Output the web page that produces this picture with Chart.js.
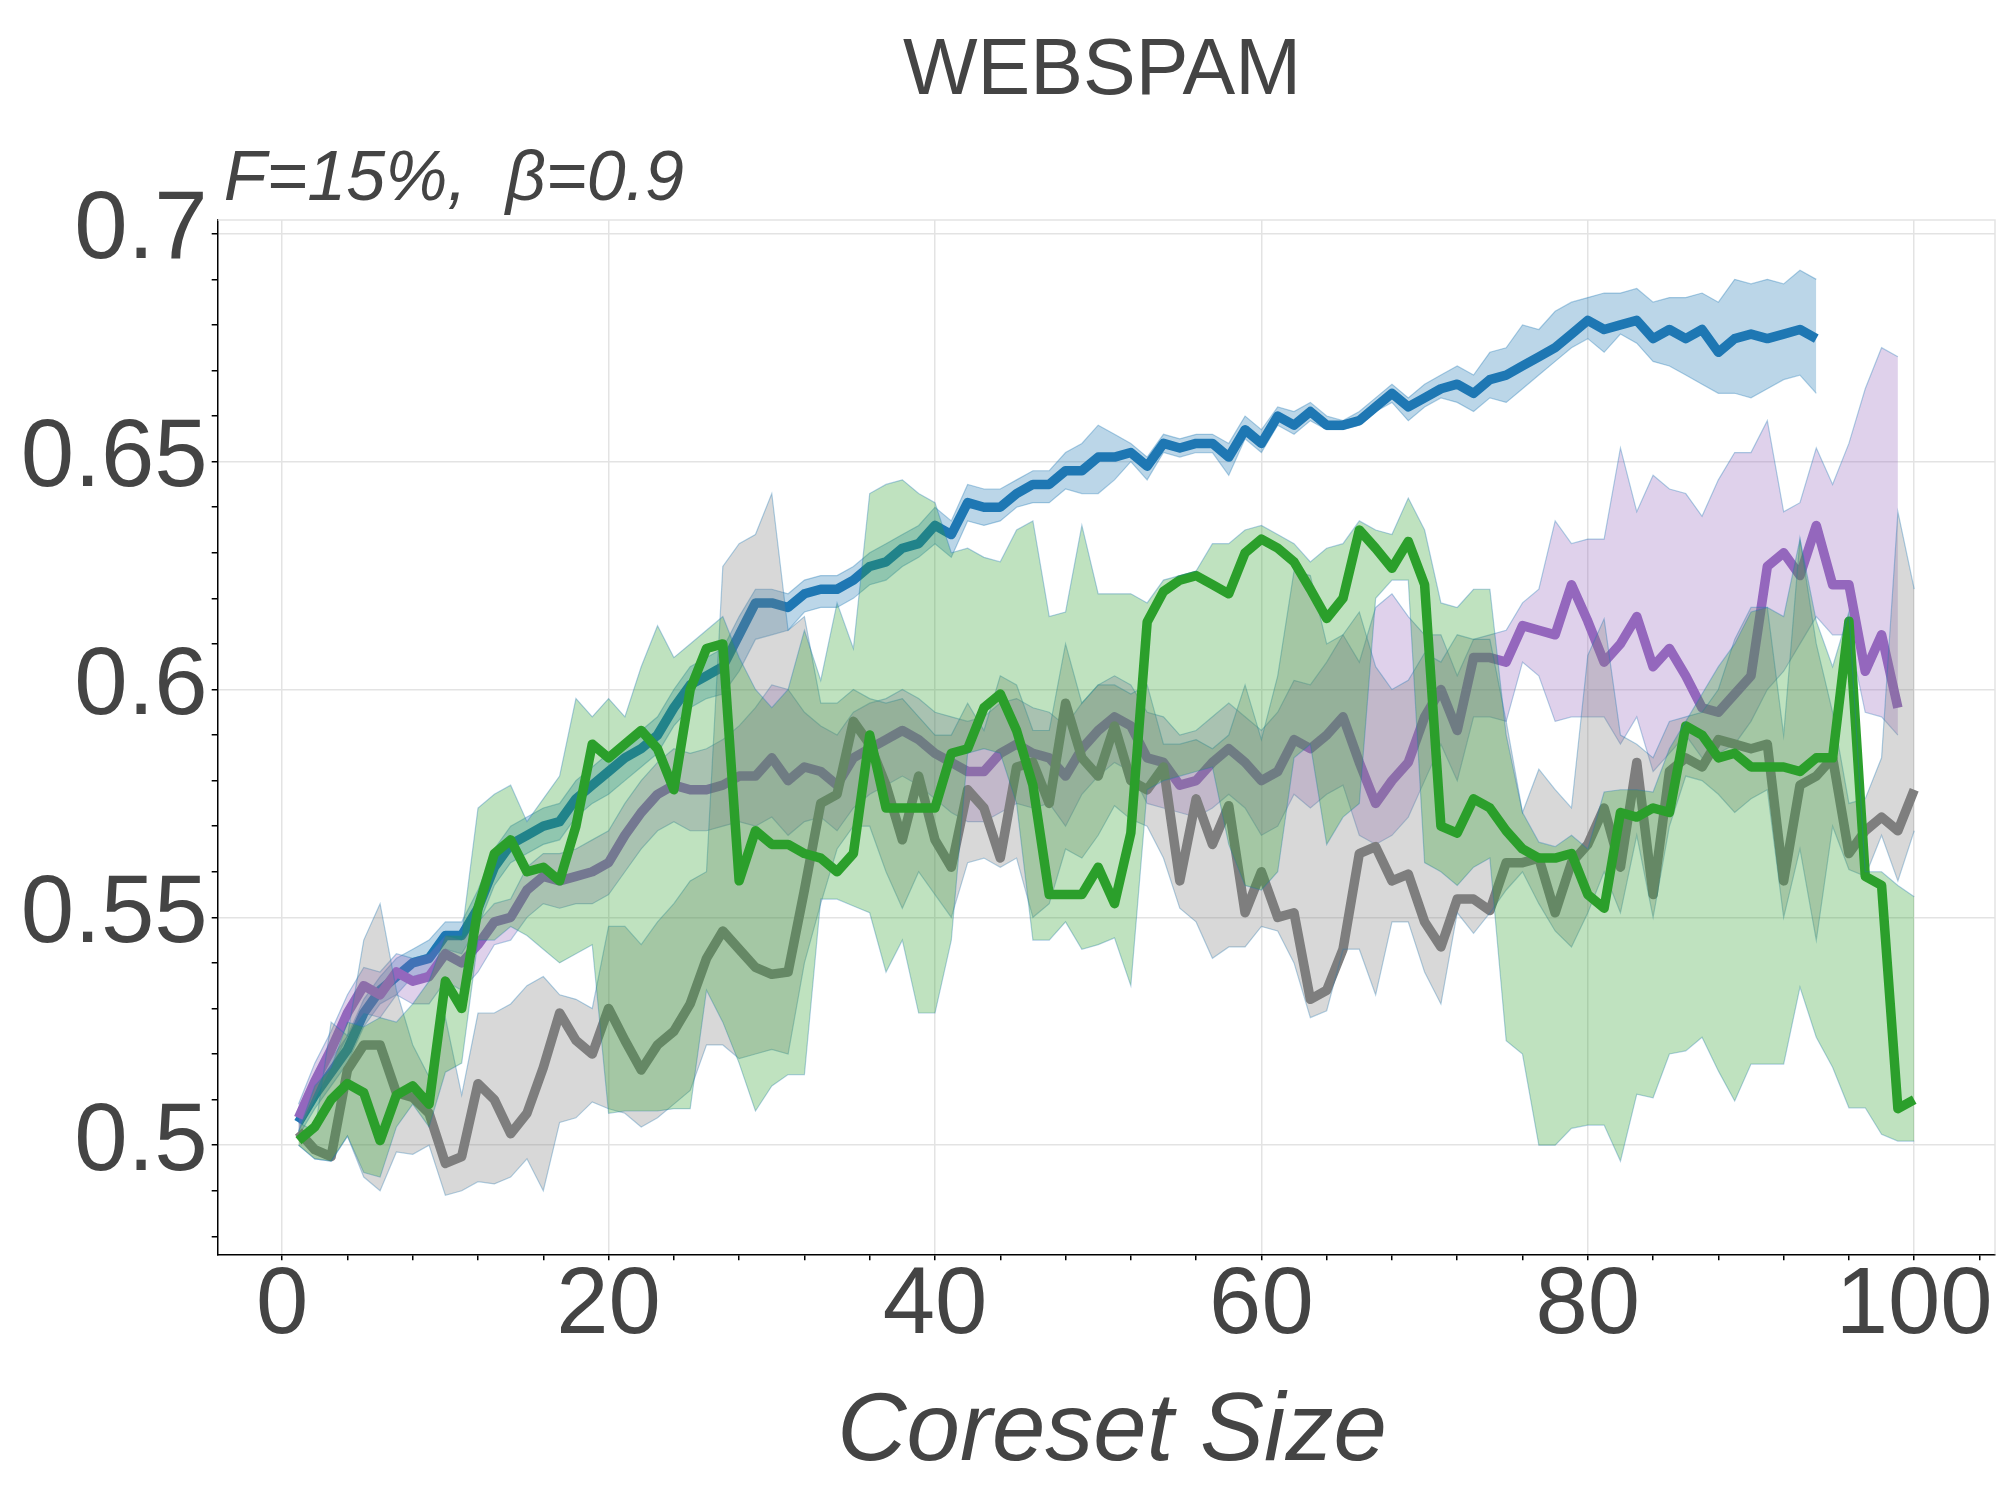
<!DOCTYPE html>
<html lang="en">
<head>
<meta charset="UTF-8">
<title>WEBSPAM</title>
<script src="https://cdn.jsdelivr.net/npm/chart.js"></script>
<style>
  html, body { margin: 0; padding: 0; background: #fff; }
  #chart { display: block; }
</style>
</head>
<body>
<canvas id="chart" width="2000" height="1500"></canvas>
<script>
// coreset sizes 1..100 (each method stops at its own length)
const coresetSizes = Array.from({ length: 100 }, (_, i) => i + 1);

// blue
const blueMean = [.505,.511,.516,.521,.529,.534,.537,.540,.541,.546, .546,.552,.561,.566,.568,.570,.571,.576,.579,.582,
  .585,.587,.590,.596,.601,.603,.605,.612,.619,.619, .618,.621,.622,.622,.624,.627,.628,.631,.632,.636,
  .634,.641,.640,.640,.643,.645,.645,.648,.648,.651, .651,.652,.649,.654,.653,.654,.654,.651,.657,.654,
  .660,.658,.661,.658,.658,.659,.662,.665,.662,.664, .666,.667,.665,.668,.669,.671,.673,.675,.678,.681,
  .679,.680,.681,.677,.679,.677,.679,.674,.677,.678, .677,.678,.679,.677];
const blueHigh = [.508,.514,.519,.524,.532,.537,.541,.543,.545,.549, .549,.556,.565,.570,.572,.574,.575,.580,.583,.586,
  .589,.591,.594,.600,.605,.607,.609,.616,.622,.622, .621,.624,.625,.625,.627,.630,.632,.634,.636,.640,
  .637,.645,.644,.644,.646,.648,.648,.652,.654,.658, .656,.654,.651,.656,.655,.656,.656,.654,.660,.657,
  .662,.661,.663,.660,.659,.661,.664,.667,.664,.667, .669,.671,.669,.674,.675,.680,.679,.683,.685,.686,
  .687,.687,.688,.685,.686,.686,.687,.685,.690,.689, .690,.689,.692,.690];
const blueLow = [.502,.508,.513,.518,.526,.531,.533,.537,.538,.543, .542,.548,.557,.562,.564,.566,.567,.572,.575,.577,
  .580,.583,.586,.592,.596,.598,.599,.604,.611,.612, .613,.617,.618,.618,.620,.623,.624,.627,.629,.632,
  .629,.637,.636,.637,.640,.641,.641,.644,.643,.643, .646,.650,.646,.652,.651,.652,.652,.647,.655,.652,
  .658,.656,.659,.657,.657,.658,.661,.663,.659,.662, .664,.663,.661,.664,.663,.666,.669,.672,.675,.677,
  .674,.678,.676,.672,.671,.669,.667,.665,.665,.664, .666,.668,.669,.665];

// purple
const purpleMean = [.506,.514,.521,.529,.535,.533,.538,.536,.537,.542, .540,.544,.549,.550,.556,.559,.558,.559,.560,.562,
  .568,.573,.577,.579,.578,.578,.579,.581,.581,.585, .580,.583,.582,.579,.585,.587,.589,.591,.589,.586,
  .584,.582,.582,.586,.588,.586,.585,.581,.587,.591, .594,.592,.585,.584,.579,.580,.584,.587,.584,.580,
  .582,.589,.587,.590,.594,.584,.575,.580,.584,.594, .600,.591,.607,.607,.606,.614,.613,.612,.623,.615,
  .606,.610,.616,.605,.609,.603,.596,.595,.599,.603, .627,.630,.625,.636,.623,.623,.604,.612,.596];
const purpleHigh = [.509,.518,.525,.533,.539,.538,.542,.541,.542,.546, .545,.549,.553,.554,.561,.564,.564,.565,.567,.569,
  .575,.580,.584,.587,.586,.587,.589,.592,.596,.601, .600,.595,.592,.590,.595,.597,.598,.600,.598,.595,
  .594,.593,.594,.597,.598,.596,.595,.592,.597,.601, .603,.601,.595,.594,.590,.591,.594,.597,.594,.591,
  .595,.602,.601,.606,.612,.606,.618,.621,.616,.612, .612,.603,.611,.612,.613,.619,.622,.637,.632,.633,
  .633,.653,.639,.647,.644,.643,.638,.646,.652,.652, .659,.639,.641,.653,.645,.654,.666,.675,.673];
const purpleLow = [.503,.510,.517,.524,.529,.528,.533,.531,.531,.536, .534,.538,.544,.545,.550,.553,.552,.553,.553,.555,
  .560,.565,.569,.571,.569,.569,.570,.571,.570,.572, .568,.571,.572,.569,.574,.577,.579,.581,.579,.576,
  .573,.571,.571,.573,.575,.574,.575,.570,.577,.581, .584,.582,.575,.574,.573,.572,.574,.577,.574,.568,
  .570,.577,.574,.577,.579,.568,.566,.568,.572,.580, .588,.580,.594,.594,.593,.606,.603,.593,.594,.594,
  .594,.588,.594,.582,.586,.590,.585,.586,.588,.593, .600,.604,.610,.616,.612,.612,.595,.594,.590];

// gray
const grayMean = [.503,.499,.4975,.5165,.522,.522,.5115,.5105,.507,.496, .4975,.5135,.510,.5025,.507,.517,.529,.523,.520,.530,
  .523,.5165,.522,.525,.531,.541,.547,.543,.539,.5375, .538,.556,.575,.577,.593,.588,.579,.567,.581,.567,
  .561,.578,.574,.563,.583,.584,.575,.597,.585,.581, .592,.580,.578,.583,.558,.576,.566,.5745,.551,.560,
  .550,.551,.532,.534,.543,.564,.5655,.558,.5595,.549, .5435,.554,.554,.5515,.562,.562,.563,.551,.562,.566,
  .574,.561,.584,.555,.582,.585,.583,.589,.588,.587, .588,.558,.579,.581,.585,.564,.569,.572,.569,.578];
const grayHigh = [.505,.503,.527,.524,.545,.553,.534,.522,.515,.528, .511,.529,.529,.531,.535,.537,.533,.532,.530,.548,
  .548,.544,.549,.553,.558,.560,.627,.632,.634,.643, .613,.616,.597,.597,.600,.598,.597,.598,.594,.590,
  .590,.597,.591,.603,.601,.591,.591,.610,.597,.601, .601,.599,.601,.588,.588,.589,.587,.590,.601,.589,
  .603,.626,.625,.610,.612,.617,.605,.600,.602,.608, .606,.612,.611,.611,.593,.573,.5825,.578,.574,.6075,
  .6155,.590,.588,.585,.593,.594,.595,.600,.611,.618, .618,.590,.633,.610,.595,.575,.576,.585,.639,.622];
const grayLow = [.500,.497,.4965,.502,.493,.490,.4985,.498,.500,.489, .490,.492,.4915,.493,.497,.490,.505,.506,.5095,.508,
  .507,.504,.506,.509,.512,.522,.522,.519,.520,.521, .520,.540,.553,.565,.570,.570,.560,.552,.560,.555,
  .550,.562,.563,.561,.563,.550,.553,.565,.563,.568, .5745,.5715,.570,.563,.552,.549,.541,.5435,.5435,.548,
  .547,.540,.528,.5295,.543,.543,.533,.549,.549,.538, .531,.551,.5465,.551,.556,.560,.553,.547,.5435,.551,
  .560,.551,.568,.550,.570,.581,.580,.577,.573,.576, .578,.550,.565,.545,.570,.5605,.559,.568,.558,.569];

// green
const greenMean = [.501,.504,.510,.5135,.5115,.501,.511,.513,.509,.536, .530,.552,.564,.567,.560,.561,.558,.570,.588,.585,
  .588,.591,.587,.578,.600,.609,.610,.558,.569,.566, .566,.564,.563,.560,.564,.590,.574,.574,.574,.574,
  .586,.587,.596,.599,.591,.579,.555,.555,.555,.561, .553,.5685,.6148,.6215,.624,.625,.623,.621,.630,.633,
  .631,.628,.622,.6156,.620,.635,.631,.6266,.6325,.623, .570,.5685,.576,.574,.569,.565,.563,.563,.564,.555,
  .552,.573,.572,.574,.573,.592,.590,.585,.586,.583, .583,.583,.582,.585,.585,.615,.559,.557,.508,.510];
const greenHigh = [.503,.513,.517,.527,.526,.528,.527,.531,.536,.546, .546,.574,.577,.579,.571,.576,.581,.598,.594,.598,
  .594,.605,.614,.607,.610,.613,.616,.607,.600,.596, .600,.613,.602,.619,.609,.643,.645,.646,.643,.641,
  .630,.631,.629,.628,.635,.637,.616,.617,.636,.621, .621,.621,.619,.624,.625,.626,.632,.632,.635,.636,
  .634,.632,.628,.631,.632,.637,.635,.634,.642,.635, .619,.618,.622,.622,.590,.573,.5665,.5655,.568,.565,
  .5775,.578,.578,.5775,.587,.593,.599,.605,.610,.617, .618,.616,.633,.615,.605,.617,.560,.560,.557,.5545];
const greenLow = [.500,.497,.4965,.502,.494,.493,.504,.509,.504,.516, .518,.545,.545,.548,.546,.543,.540,.542,.544,.507,
  .5075,.5075,.5075,.508,.508,.534,.527,.518,.5075,.513, .5155,.5155,.554,.554,.5525,.551,.538,.545,.529,.529,
  .545,.586,.587,.586,.575,.545,.545,.549,.543,.544, .5455,.535,.578,.580,.581,.582,.583,.566,.557,.556,
  .560,.585,.588,.566,.572,.575,.620,.624,.624,.562, .560,.557,.561,.563,.5229,.520,.500,.500,.5037,.5044,
  .5044,.4965,.5112,.5104,.520,.5207,.5237,.5163,.5097,.5178, .5178,.5178,.5347,.5237,.5171,.5082,.5082,.5024,.5009,.5009];

// axis ticks
const xTicks = [0,4,8,12,16,20,24,28,32,36,40,44,48,52,56,60,64,68,72,76,80,84,88,92,96,100,104];
const xTickLabels = ['0','20','40','60','80','100'];
const yTicks = [0.48,0.49,0.50,0.51,0.52,0.53,0.54,0.55,0.56,0.57,0.58,0.59,0.60,0.61,0.62,0.63,0.64,0.65,0.66,0.67,0.68,0.69,0.70];
const yTickLabels = ['0.5','0.55','0.6','0.65','0.7'];

const FONT = "'Liberation Sans', Arial, Helvetica, sans-serif";
const TEXT = '#444444';
const EDGE = 'rgba(31,119,180,0.35)';

function pts(values) {
  return values.map((v, i) => ({ x: coresetSizes[i], y: v }));
}

// one line plus its shaded band; higher order is drawn underneath
function series(mean, low, high, rgb, order) {
  return [
    { data: pts(mean), borderColor: `rgb(${rgb})`, borderWidth: 9.5, pointRadius: 0,
      borderJoinStyle: 'round', fill: false, order: order + 2 },
    { data: pts(low), borderColor: EDGE, borderWidth: 1.2, pointRadius: 0, fill: false, order: order + 1 },
    { data: pts(high), borderColor: EDGE, borderWidth: 1.2, pointRadius: 0,
      backgroundColor: `rgba(${rgb},0.3)`, fill: '-1', order: order }
  ];
}

const datasets = [
  ...series(blueMean, blueLow, blueHigh, '31,119,180', 10),
  ...series(purpleMean, purpleLow, purpleHigh, '148,103,189', 7),
  ...series(grayMean, grayLow, grayHigh, '127,127,127', 4),
  ...series(greenMean, greenLow, greenHigh, '44,160,44', 1)
];

const isMajorX = v => xTickLabels.includes(String(v));
const fmtY = v => String(Math.round(v * 100) / 100);
const isMajorY = v => yTickLabels.includes(fmtY(v));

// texts and the light top/right frame
const decorations = {
  id: 'decorations',
  beforeDatasetsDraw(chart) {
    const { ctx, chartArea: a } = chart;
    ctx.save();
    ctx.strokeStyle = '#e3e3e3';
    ctx.lineWidth = 1.5;
    ctx.beginPath();
    ctx.moveTo(a.left, a.top);
    ctx.lineTo(a.right, a.top);
    ctx.lineTo(a.right, a.bottom);
    ctx.stroke();
    ctx.restore();
  },
  afterDraw(chart) {
    const { ctx, chartArea: a } = chart;
    ctx.save();
    ctx.fillStyle = TEXT;
    ctx.textBaseline = 'alphabetic';
    ctx.textAlign = 'center';
    ctx.font = `79px ${FONT}`;
    ctx.fillText('WEBSPAM', 1102, 94);
    ctx.textAlign = 'left';
    ctx.font = `italic 70px ${FONT}`;
    ctx.fillText('F=15%,  \u03b2=0.9', a.left + 6, 200);
    ctx.textAlign = 'center';
    ctx.font = `italic 96px ${FONT}`;
    ctx.fillText('Coreset Size', 1112, 1460);
    ctx.restore();
  }
};

new Chart(document.getElementById('chart'), {
  type: 'line',
  data: { datasets },
  options: {
    responsive: false,
    animation: false,
    devicePixelRatio: 1,
    layout: { padding: { left: 0, top: 220, right: 5, bottom: 0 } },
    elements: { line: { tension: 0 } },
    plugins: { legend: { display: false }, tooltip: { enabled: false }, title: { display: false } },
    scales: {
      x: {
        type: 'linear', min: -3.95, max: 104.95,
        afterBuildTicks: s => { s.ticks = xTicks.map(v => ({ value: v })); },
        afterFit: s => { s.height = 245.7; },
        ticks: {
          autoSkip: false, maxRotation: 0, padding: 0, color: TEXT,
          font: { family: FONT, size: 94, lineHeight: 1 },
          callback: v => isMajorX(v) ? String(v) : ''
        },
        grid: {
          color: c => (c.tick && isMajorX(c.tick.value)) ? '#e3e3e3' : 'rgba(0,0,0,0)',
          lineWidth: 1.5, tickColor: '#000', tickLength: 6, tickWidth: 1.5
        },
        border: { color: '#000', width: 1.5 }
      },
      y: {
        type: 'linear', min: 0.47605, max: 0.70303,
        afterBuildTicks: s => { s.ticks = yTicks.map(v => ({ value: v })); },
        afterFit: s => { s.width = 217.7; },
        ticks: {
          autoSkip: false, padding: 4, labelOffset: -2, color: TEXT,
          font: { family: FONT, size: 96, lineHeight: 1 },
          callback: v => isMajorY(v) ? fmtY(v) : ''
        },
        grid: {
          color: c => (c.tick && isMajorY(c.tick.value)) ? '#e3e3e3' : 'rgba(0,0,0,0)',
          lineWidth: 1.5, tickColor: '#000', tickLength: 6, tickWidth: 1.5
        },
        border: { color: '#000', width: 1.5 }
      }
    }
  },
  plugins: [decorations]
});
</script>
</body>
</html>
